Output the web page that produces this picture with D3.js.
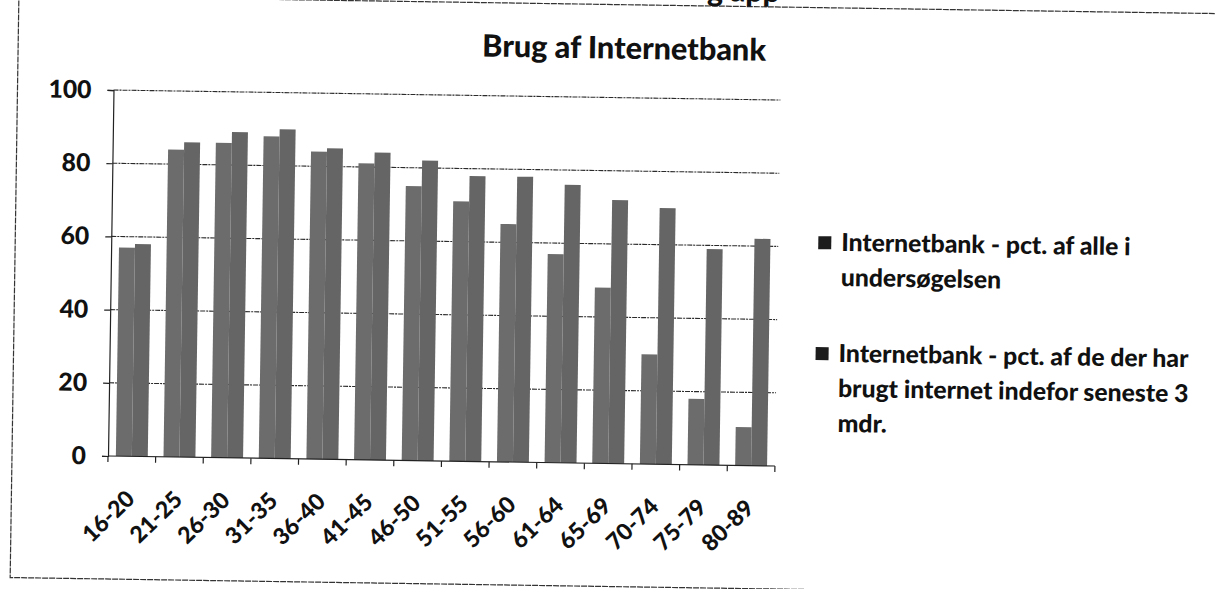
<!DOCTYPE html>
<html>
<head>
<meta charset="utf-8">
<script src="https://cdn.jsdelivr.net/npm/d3@7"></script>
<style>
  html, body { margin: 0; padding: 0; background: #fff; }
  svg { display: block; font-family: Lato, "Open Sans", sans-serif; font-weight: 900; }
</style>
</head>
<body>
<svg id="chart"></svg>
<script>
// data
const ageGroups = ["16-20", "21-25", "26-30", "31-35", "36-40", "41-45", "46-50",
                   "51-55", "56-60", "61-64", "65-69", "70-74", "75-79", "80-89"];
const pctAll   = [57, 84, 86, 88, 84, 81, 75, 71, 65, 57, 48, 30, 18, 10.5];
const pctUsers = [58, 86, 89, 90, 85, 84, 82, 78, 78, 76, 72, 70, 59, 62];
const yTicks = [0, 20, 40, 60, 80, 100];
const chartTitle = "Brug af Internetbank";
const legendLines = [
    ["Internetbank - pct. af alle i", "undersøgelsen"],
    ["Internetbank - pct. af de der har", "brugt internet indefor seneste 3", "mdr."]
];
const headingFragment = "g app";

const W = 1215, H = 589;
const origin = { x: 108, y: 456 };   // bottom-left of the plot
const plotW = 667, plotH = 366;
const tilt = 0.86;                     // the scan is slightly rotated

const svg = d3.select("#chart").attr("width", W).attr("height", H);

function fitSize(str, targetWidth) {
    const t = svg.append("text").attr("font-size", 100).text(str);
    const w = t.node().getComputedTextLength();
    t.remove();
    return 100 * targetWidth / w;
}

const axisFont = fitSize("100", 43);
const catFont = fitSize("16-20", 62);
const legendFont = fitSize(legendLines[1][0], 350);
const titleFont = fitSize(chartTitle, 284);

const page = svg.append("g")
    .attr("transform", `rotate(${tilt},${origin.x},${origin.y})`);

// outer frame of the pasted chart
page.append("rect")
    .attr("x", 12).attr("y", -3)
    .attr("width", 1240).attr("height", 582)
    .attr("fill", "none")
    .attr("stroke", "#333")
    .attr("stroke-width", 1.2)
    .attr("stroke-dasharray", "6,1");

// bits of the document heading above the chart
page.append("text")
    .attr("x", 700).attr("y", -8)
    .attr("font-size", 30)
    .attr("fill", "#111")
    .text(headingFragment);

page.append("text")
    .attr("x", 618).attr("y", 51)
    .attr("text-anchor", "middle")
    .attr("font-size", titleFont)
    .attr("fill", "#111")
    .text(chartTitle);

const plot = page.append("g")
    .attr("transform", `translate(${origin.x},${origin.y - plotH})`);

const x0 = d3.scaleBand()
    .domain(ageGroups)
    .range([0, plotW])
    .paddingInner(0.33)
    .paddingOuter(0.165);

const x1 = d3.scaleBand()
    .domain([0, 1])
    .range([0, x0.bandwidth()]);

const y = d3.scaleLinear().domain([0, 100]).range([plotH, 0]);

// gridlines
plot.append("g")
    .selectAll("line")
    .data(yTicks.filter(v => v > 0))
    .join("line")
    .attr("x1", 0).attr("x2", plotW)
    .attr("y1", d => y(d)).attr("y2", d => y(d))
    .attr("stroke", "#2a2a2a")
    .attr("stroke-width", 1.1)
    .attr("stroke-dasharray", "5,1,2,1");

// bars
const barColors = ["#6c6c6c", "#656565"];
const groups = plot.append("g")
    .selectAll("g")
    .data(ageGroups.map((a, i) => ({ age: a, values: [pctAll[i], pctUsers[i]] })))
    .join("g")
    .attr("transform", d => `translate(${x0(d.age)},0)`);

groups.selectAll("rect")
    .data(d => d.values.map((v, k) => ({ k, v })))
    .join("rect")
    .attr("x", d => x1(d.k))
    .attr("width", x1.bandwidth())
    .attr("y", d => y(d.v))
    .attr("height", d => plotH - y(d.v))
    .attr("fill", d => barColors[d.k]);

// y axis
const yAxis = plot.append("g")
    .call(d3.axisLeft(y).tickValues(yTicks).tickSize(6).tickPadding(16));
yAxis.selectAll("path, line").attr("stroke", "#222").attr("stroke-width", 1.2);
yAxis.selectAll("text")
    .attr("font-size", axisFont)
    .attr("font-family", "Lato, sans-serif")
    .attr("font-weight", 900)
    .attr("fill", "#111");

// x axis line and boundary ticks
const step = x0.step();
const edges = ageGroups.map(a => x0(a) - step * x0.paddingInner() / 2).concat([plotW]);
const xAxis = plot.append("g").attr("transform", `translate(0,${plotH})`);
xAxis.append("line")
    .attr("x1", 0).attr("x2", plotW)
    .attr("stroke", "#222").attr("stroke-width", 1.2);
xAxis.selectAll("line.tick")
    .data(edges)
    .join("line")
    .attr("class", "tick")
    .attr("x1", d => d).attr("x2", d => d)
    .attr("y1", 0).attr("y2", 6)
    .attr("stroke", "#222").attr("stroke-width", 1.2);

xAxis.selectAll("text")
    .data(ageGroups)
    .join("text")
    .attr("text-anchor", "end")
    .attr("font-size", catFont)
    .attr("fill", "#111")
    .attr("transform", d => `translate(${x0(d) + x0.bandwidth() / 2 + 5},44) rotate(-45)`)
    .text(d => d);

// legend
const legendPos = [{ x: 815, y: 232 }, { x: 814, y: 343 }];
const lineGap = 35;
legendLines.forEach((lines, i) => {
    const g = page.append("g").attr("transform", `translate(${legendPos[i].x},${legendPos[i].y})`);
    g.append("rect")
        .attr("x", 0).attr("y", -6.5)
        .attr("width", 13).attr("height", 13)
        .attr("fill", "#1c1c1c");
    g.selectAll("text")
        .data(lines)
        .join("text")
        .attr("x", 23)
        .attr("y", (d, j) => 8 + j * lineGap)
        .attr("font-size", legendFont)
        .attr("fill", "#111")
        .text(d => d);
});
</script>
</body>
</html>
